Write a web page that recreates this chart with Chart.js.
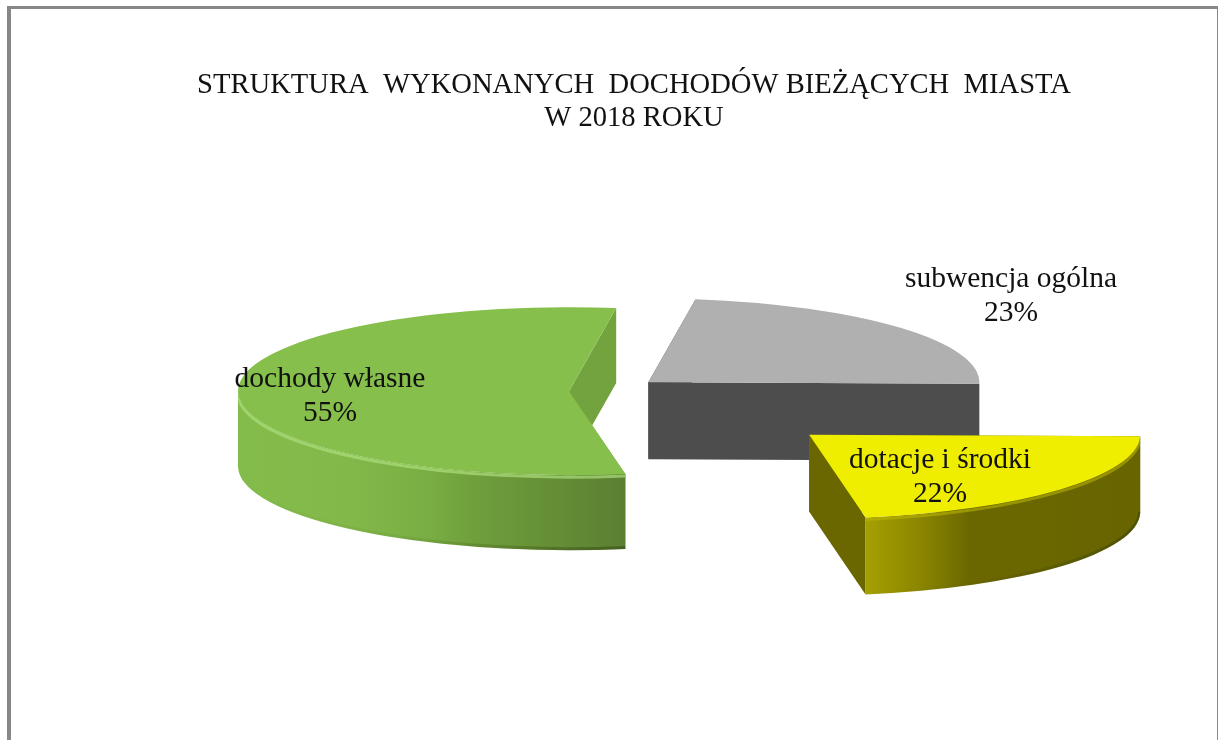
<!DOCTYPE html>
<html lang="pl">
<head>
<meta charset="utf-8">
<style>
html,body{margin:0;padding:0;background:#fff;overflow:hidden}
#wrap{position:relative;width:1218px;height:740px}
#frame{position:absolute;left:7px;top:6px;width:1211px;height:734px;border-left:4px solid #878787;border-top:3px solid #878787;border-right:1px solid #8a8a8a;box-sizing:border-box;pointer-events:none}
canvas{position:absolute;left:0;top:0}
</style>
<script src="https://cdn.jsdelivr.net/npm/chart.js@4"></script>
</head>
<body>
<div id="wrap"><canvas id="c" width="1218" height="740"></canvas><div id="frame"></div></div>
<script>
const categories = ['dochody własne', 'subwencja ogólna', 'dotacje i środki'];
const values = [55, 23, 22];
const titleLines = ['STRUKTURA  WYKONANYCH  DOCHODÓW BIEŻĄCYCH  MIASTA', 'W 2018 ROKU'];

// styling only
const topColors = ['#86bf4c', '#b0b0b0', '#efed00'];
const sideColors = ['#72a33e', '#4d4d4d', '#6a6600'];
const depths = [75, 77, 77];
const explode = [39, 53, 265];
const wallStops = [
  [[0, '#84bc4b'], [0.3, '#82b84a'], [0.5, '#78ad43'], [0.6, '#70a03c'], [1, '#5a7f32']],
  [[0, '#4d4d4d'], [1, '#4d4d4d']],
  [[0, '#a5a000'], [0.2, '#8a8600'], [0.38, '#6b6700'], [1, '#686400']]
];
const bevelColors = ['rgba(172,222,124,0.7)', null, 'rgba(190,186,0,0.55)'];
const labelCentres = [[330, 394], [1011, 294], [940, 475]];
const labelFont = '29.5px "Liberation Serif", "Times New Roman", serif';
const CX = 608, CY = 391, RADIUS = 331, K = 84 / 331;
const faces = [];

function projected(i) {
  const f = faces[i];
  const mid = (f.start + f.end) / 2;
  const off = explode[i];
  const TAU = Math.PI * 2;
  const a = ((f.start % TAU) + TAU) % TAU;
  const b = a + (f.end - f.start);
  return { x: CX + Math.cos(mid) * off, y: CY + Math.sin(mid) * off * K, r: RADIUS, a, b, h: depths[i] };
}
const extrude = {
  id: 'extrude',
  afterDatasetsUpdate(chart) {
    // Chart.js enlarges and narrows exploded arcs; undo both so each top face
    // has the same radius and the full angle of its value.
    chart.getDatasetMeta(0).data.forEach((el, i) => {
      faces[i] = { start: el.startAngle, end: el.endAngle };
      const grow = explode[i] * (1 - Math.sin(Math.min(Math.PI, el.circumference)));
      el.outerRadius = RADIUS - grow;
      const inset = grow / (2 * Math.PI * RADIUS);
      el.startAngle -= inset;
      el.endAngle += inset;
    });
  },
  beforeDatasetsDraw(chart) {
    const ctx = chart.ctx;
    const arcs = chart.getDatasetMeta(0).data;
    arcs.forEach((el, i) => {
      const s = projected(i);
      const rx = s.r, ry = s.r * K;
      ctx.fillStyle = sideColors[i];
      [s.a, s.b].forEach(t => {
        const ex = s.x + Math.cos(t) * rx, ey = s.y + Math.sin(t) * ry;
        ctx.beginPath();
        ctx.moveTo(s.x, s.y);
        ctx.lineTo(ex, ey);
        ctx.lineTo(ex, ey + s.h);
        ctx.lineTo(s.x, s.y + s.h);
        ctx.closePath();
        ctx.fill();
      });
      const TAU = Math.PI * 2;
      [[0, Math.PI], [TAU, TAU + Math.PI]].forEach(([lo, hi]) => {
        const u = Math.max(s.a, lo), v = Math.min(s.b, hi);
        if (v <= u) return;
        const x1 = s.x + Math.cos(v) * rx, x2 = s.x + Math.cos(u) * rx;
        const left = Math.min(x1, x2), right = Math.max(x1, x2);
        const grad = ctx.createLinearGradient(left, 0, right, 0);
        wallStops[i].forEach(([o, c]) => grad.addColorStop(o, c));
        ctx.save();
        ctx.beginPath();
        ctx.ellipse(s.x, s.y, rx, ry, 0, u, v, false);
        ctx.ellipse(s.x, s.y + s.h, rx, ry, 0, v, u, true);
        ctx.closePath();
        ctx.fillStyle = grad;
        ctx.fill();
        ctx.clip();
        if (bevelColors[i]) {
          ctx.lineWidth = 3;
          ctx.strokeStyle = bevelColors[i];
          ctx.beginPath();
          ctx.ellipse(s.x, s.y + 2, rx, ry, 0, u, v, false);
          ctx.stroke();
          const shade = ctx.createLinearGradient(left, 0, right, 0);
          shade.addColorStop(0, 'rgba(45,60,10,0)');
          shade.addColorStop(0.45, 'rgba(45,60,10,0.08)');
          shade.addColorStop(1, 'rgba(45,60,10,0.45)');
          ctx.lineWidth = 4;
          ctx.strokeStyle = shade;
          ctx.beginPath();
          ctx.ellipse(s.x, s.y + s.h - 1, rx, ry, 0, u, v, false);
          ctx.stroke();
        }
        ctx.restore();
      });
    });
    const first = arcs[0];
    ctx.save();
    ctx.translate(CX - first.x, CY);
    ctx.scale(1, K);
    ctx.translate(0, -first.y);
  },
  afterDatasetsDraw(chart) {
    chart.ctx.restore();
  },
  afterDraw(chart) {
    const ctx = chart.ctx;
    ctx.save();
    ctx.font = labelFont;
    ctx.fillStyle = '#111';
    ctx.textAlign = 'center';
    ctx.textBaseline = 'middle';
    categories.forEach((name, i) => {
      const [x, y] = labelCentres[i];
      ctx.fillText(name, x, y - 15);
      ctx.fillText(values[i] + '%', x, y + 19);
    });
    ctx.restore();
  }
};

new Chart(document.getElementById('c'), {
  type: 'pie',
  data: {
    labels: categories,
    datasets: [{
      data: values,
      backgroundColor: topColors,
      borderWidth: 0,
      offset: explode.map(d => d * 4),
      radius: RADIUS,
      cutout: '0%',
      clip: false
    }]
  },
  options: {
    responsive: false,
    devicePixelRatio: 1,
    animation: false,
    rotation: 170.2,
    layout: { padding: { left: 50 } },
    plugins: {
      legend: { display: false },
      tooltip: { enabled: false },
      title: {
        display: true,
        text: titleLines,
        color: '#111',
        font: { family: '"Liberation Serif", "Times New Roman", serif', size: 28.6, weight: 'normal', lineHeight: '33px' },
        padding: { top: 69, bottom: 10 }
      }
    }
  },
  plugins: [extrude]
});
</script>
</body>
</html>
